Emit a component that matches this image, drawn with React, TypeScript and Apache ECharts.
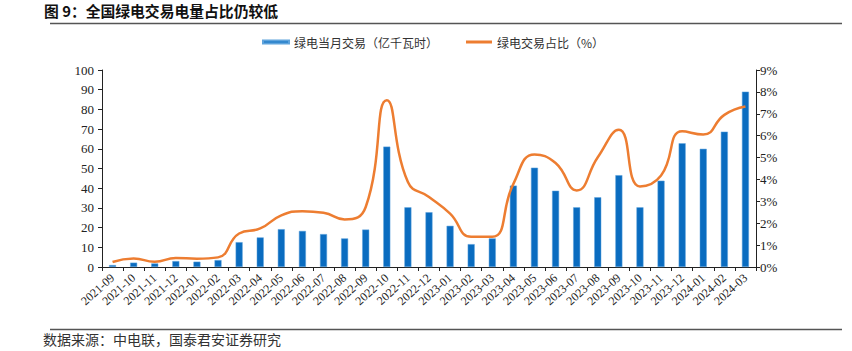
import React, { useEffect, useRef } from "react";
import * as echarts from "echarts";

const categories = [
  "2021-09", "2021-10", "2021-11", "2021-12",
  "2022-01", "2022-02", "2022-03", "2022-04", "2022-05", "2022-06",
  "2022-07", "2022-08", "2022-09", "2022-10", "2022-11", "2022-12",
  "2023-01", "2023-02", "2023-03", "2023-04", "2023-05", "2023-06",
  "2023-07", "2023-08", "2023-09", "2023-10", "2023-11", "2023-12",
  "2024-01", "2024-02", "2024-03",
];

const monthlyVolume = [
  1.0, 2.2, 1.8, 3.0,
  2.7, 3.5, 12.6, 15.0, 19.2, 18.3,
  16.7, 14.5, 19.0, 61.1, 30.3, 27.8,
  20.9, 11.6, 14.5, 41.3, 50.4, 38.7,
  30.3, 35.4, 46.6, 30.3, 43.8, 62.8,
  60.0, 68.7, 89.0,
];

const sharePct = [
  0.23, 0.39, 0.24, 0.41,
  0.38, 0.44, 1.53, 1.76, 2.36, 2.55,
  2.48, 2.17, 2.74, 7.62, 3.88, 3.2,
  2.44, 1.38, 1.38, 3.8, 5.14, 4.75,
  3.5, 5.01, 6.27, 3.68, 4.18, 6.2,
  6.05, 6.95, 7.33,
];

const leftTicks = [0, 10, 20, 30, 40, 50, 60, 70, 80, 90, 100];
const rightTicks = [0, 1, 2, 3, 4, 5, 6, 7, 8, 9];

const seriesNames = ["绿电当月交易（亿千瓦时）", "绿电交易占比（%）"];
const titleText = "图 9：全国绿电交易电量占比仍较低";
const sourceText = "数据来源：中电联，国泰君安证券研究";

export default function App() {
  const ref = useRef<HTMLDivElement>(null);
  useEffect(() => {
    if (!ref.current) return;
    const chart = echarts.init(ref.current, undefined, { renderer: "svg" });
    const serif = "'Liberation Serif', 'Times New Roman', serif";
    const cjk = "'Noto Sans CJK SC', sans-serif";
    chart.setOption({
      animation: false,
      backgroundColor: "#fff",
      graphic: [
        {
          type: "text",
          left: 44,
          top: 3,
          style: { text: titleText, font: `bold 14.8px ${cjk}`, fill: "#111" },
        },
        {
          type: "line",
          shape: { x1: 50, y1: 23.5, x2: 842, y2: 23.5 },
          style: { stroke: "#555", lineWidth: 1.5 },
        },
        {
          type: "line",
          shape: { x1: 50, y1: 329.5, x2: 842, y2: 329.5 },
          style: { stroke: "#555", lineWidth: 1.5 },
        },
        {
          type: "text",
          left: 43,
          top: 332,
          style: { text: sourceText, font: `14px ${cjk}`, fill: "#333" },
        },
      ],
      legend: {
        top: 36,
        left: 262,
        padding: 0,
        itemGap: 28,
        itemWidth: 26,
        itemHeight: 3,
        textStyle: { fontFamily: cjk, fontSize: 12, color: "#333" },
        data: [
          { name: seriesNames[0], icon: "rect" },
          { name: seriesNames[1], icon: "rect" },
        ],
      },
      grid: { left: 102, right: 96, top: 70, bottom: 84, containLabel: false },
      xAxis: {
        type: "category",
        data: categories,
        boundaryGap: true,
        axisLine: { lineStyle: { color: "#222", width: 1 } },
        axisTick: { show: true, alignWithLabel: false, length: 4, lineStyle: { color: "#222" } },
        axisLabel: {
          rotate: 42,
          interval: 0,
          fontFamily: serif,
          fontSize: 12,
          color: "#222",
          margin: 9,
        },
      },
      yAxis: [
        {
          type: "value",
          min: 0,
          max: 100,
          interval: 10,
          axisLine: { show: true, lineStyle: { color: "#222" } },
          axisTick: { show: true, length: 4, inside: false, lineStyle: { color: "#222" } },
          splitLine: { show: false },
          axisLabel: {
            fontFamily: serif,
            fontSize: 13,
            color: "#222",
            margin: 8,
            formatter: (v: number) => (leftTicks.includes(v) ? String(v) : ""),
          },
        },
        {
          type: "value",
          min: 0,
          max: 9,
          interval: 1,
          position: "right",
          axisLine: { show: true, lineStyle: { color: "#222" } },
          axisTick: { show: true, length: 4, inside: false, lineStyle: { color: "#222" } },
          splitLine: { show: false },
          axisLabel: {
            fontFamily: serif,
            fontSize: 13,
            color: "#222",
            margin: 4,
            formatter: (v: number) => (rightTicks.includes(v) ? `${v}%` : ""),
          },
        },
      ],
      series: [
        {
          name: seriesNames[0],
          type: "bar",
          data: monthlyVolume,
          barWidth: 7,
          yAxisIndex: 0,
          itemStyle: { color: "#0a6cc0", borderColor: "#5fa3dc", borderWidth: 0.5 },
        },
        {
          name: seriesNames[1],
          type: "line",
          data: sharePct,
          yAxisIndex: 1,
          smooth: 0.5,
          symbol: "none",
          lineStyle: { color: "#ed7d31", width: 2.5 },
          itemStyle: { color: "#ed7d31" },
        },
      ],
    });
    return () => chart.dispose();
  }, []);
  return (
    <div
      ref={ref}
      style={{ position: "absolute", left: 0, top: 0, width: 852, height: 351 }}
    />
  );
}
